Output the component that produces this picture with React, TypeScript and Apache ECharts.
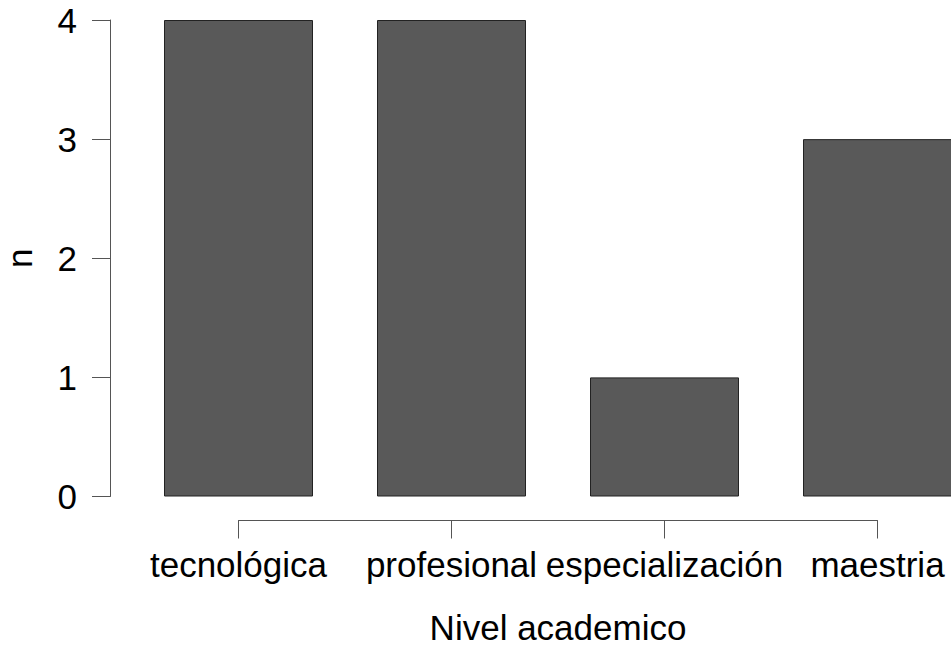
import React, { useEffect, useRef } from "react";
import * as echarts from "echarts";

const categories = ["tecnológica", "profesional", "especialización", "maestria"];
const counts = [4, 4, 1, 3];
const yTicks = [0, 1, 2, 3, 4];
const xTitle = "Nivel academico";
const yTitle = "n";

const FONT = "'Liberation Sans', Arial, Helvetica, sans-serif";

export default function App() {
  const ref = useRef<HTMLDivElement>(null);
  useEffect(() => {
    if (!ref.current) return;
    const chart = echarts.init(ref.current, undefined, { renderer: "svg" });
    chart.setOption({
      animation: false,
      backgroundColor: "#ffffff",
      grid: [
        { left: 132, width: 852, top: 20, height: 476.5, containLabel: false, outerBoundsMode: "none" },
        { left: 238.5, width: 639, top: 20, height: 500.5, containLabel: false, outerBoundsMode: "none" },
      ],
      xAxis: [
        {
          type: "category",
          gridIndex: 0,
          data: categories,
          offset: 24,
          axisLine: { show: false },
          axisTick: { show: false },
          axisLabel: { show: true, interval: 0, margin: 26, fontSize: 35, color: "#000", fontFamily: FONT },
          name: xTitle,
          nameLocation: "middle",
          nameGap: 90.5,
          nameTextStyle: { fontSize: 35, lineHeight: 32, color: "#000", fontFamily: FONT },
          splitLine: { show: false },
        },
        {
          type: "value",
          gridIndex: 1,
          min: 0,
          max: categories.length - 1,
          interval: 1,
          axisLine: { show: true, lineStyle: { color: "#555", width: 1 } },
          axisTick: { show: true, length: 18, lineStyle: { color: "#555", width: 1 } },
          axisLabel: { show: false },
          splitLine: { show: false },
        },
      ],
      yAxis: [
        {
          type: "value",
          gridIndex: 0,
          min: 0,
          max: 4,
          interval: 1,
          offset: 22,
          axisLine: { show: true, lineStyle: { color: "#555", width: 1 } },
          axisTick: { show: true, length: 18, lineStyle: { color: "#555", width: 1 } },
          axisLabel: {
            margin: 33,
            fontSize: 35,
            color: "#000",
            fontFamily: FONT,
            formatter: (v: number) => (yTicks.includes(v) ? String(v) : ""),
          },
          splitLine: { show: false },
          name: yTitle,
          nameLocation: "middle",
          nameGap: 75,
          nameRotate: 90,
          nameTextStyle: { fontSize: 35, lineHeight: 32, color: "#000", fontFamily: FONT },
        },
        {
          type: "value",
          gridIndex: 1,
          show: false,
        },
      ],
      series: [
        {
          type: "bar",
          xAxisIndex: 0,
          yAxisIndex: 0,
          data: counts,
          barWidth: 149,
          itemStyle: { color: "#595959", borderColor: "#222", borderWidth: 1 },
          silent: true,
        },
      ],
    });
    return () => chart.dispose();
  }, []);
  return (
    <div
      ref={ref}
      style={{ position: "fixed", left: 0, top: 0, width: 951, height: 647, background: "#fff" }}
    />
  );
}
